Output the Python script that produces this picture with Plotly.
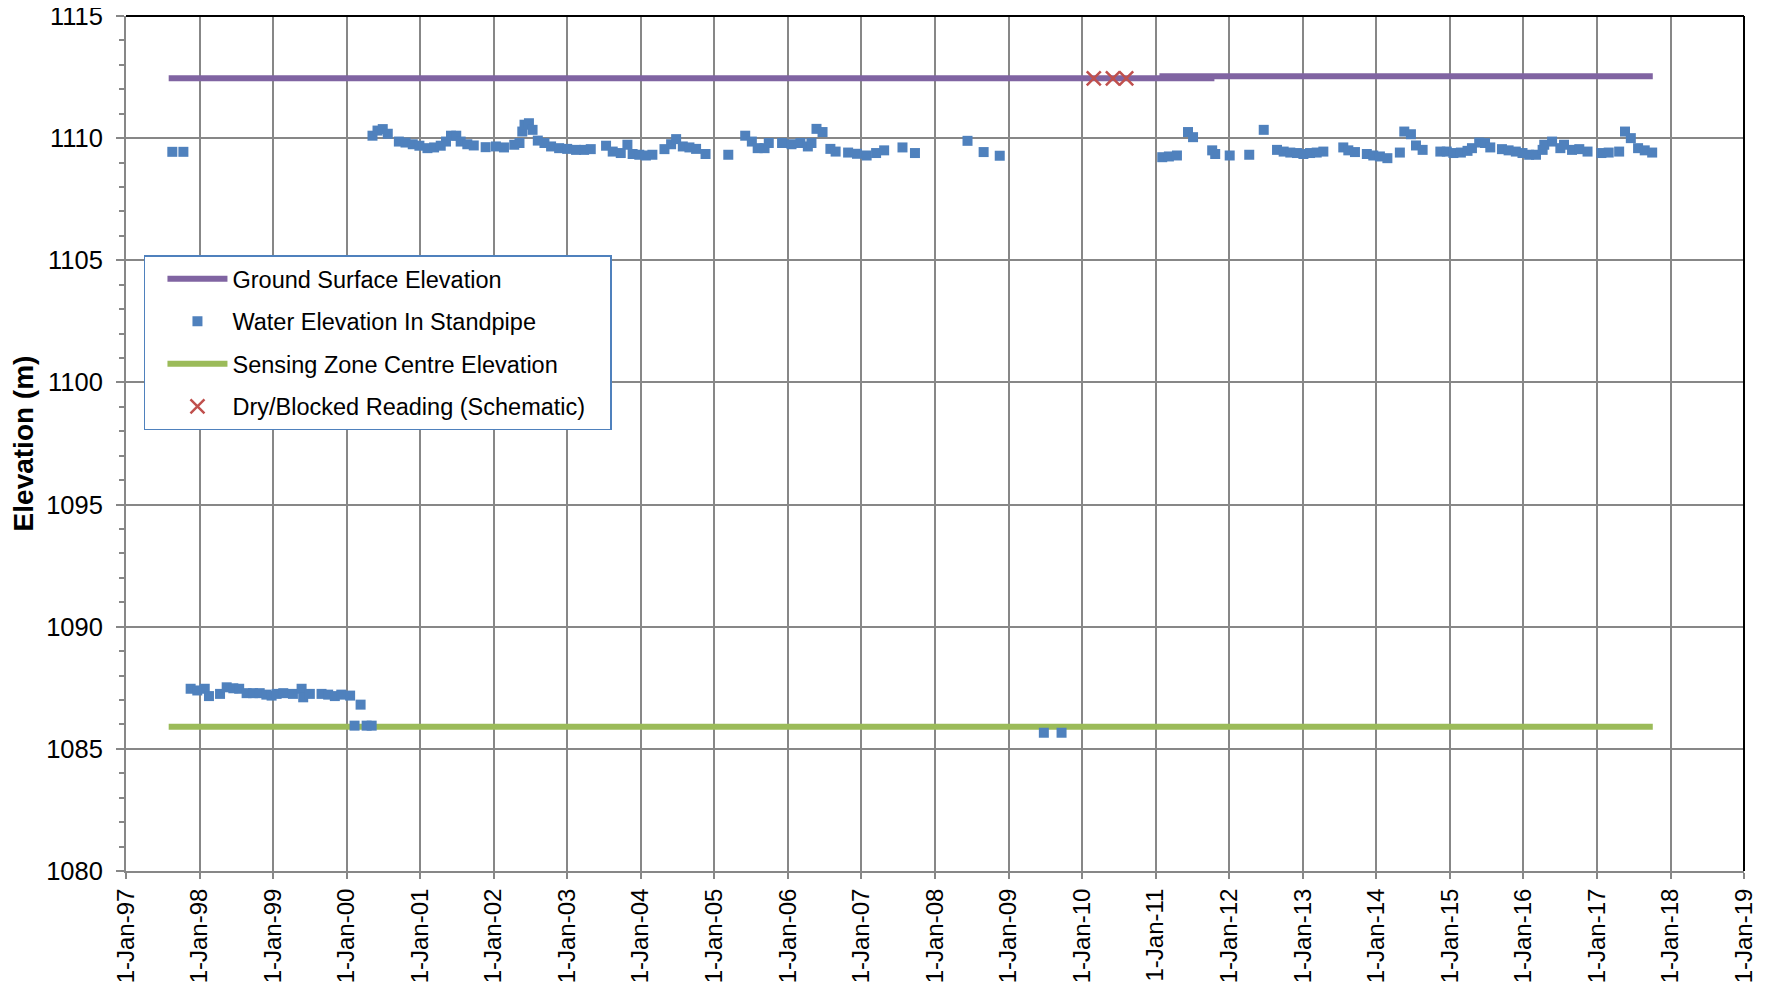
import plotly.graph_objects as go

# ---------------- data ----------------
ground_dates_a = ["1997-08-01", "2011-10-20"]
ground_vals_a = [1112.45, 1112.45]
ground_dates_b = ["2011-01-20", "2017-10-05"]
ground_vals_b = [1112.53, 1112.53]

sensing_dates = ["1997-08-01", "2017-10-05"]
sensing_vals = [1085.90, 1085.90]

dry_dates = ["2010-02-28", "2010-06-03", "2010-08-08"]
dry_vals = [1112.45, 1112.45, 1112.45]

water_dates = [
    "1997-08-19", "1997-10-13",
    "1997-11-18", "1997-12-21", "1998-01-27", "1998-02-17", "1998-04-13", "1998-05-16",
    "1998-06-18", "1998-07-17", "1998-08-23", "1998-09-24", "1998-10-27", "1998-11-29",
    "1998-12-25", "1999-01-19", "1999-02-21", "1999-04-10", "1999-05-23", "1999-05-31",
    "1999-07-03", "1999-08-30", "1999-10-02", "1999-11-04", "1999-12-06", "2000-01-19",
    "2000-03-11", "2000-02-10", "2000-04-10", "2000-05-05",
    "2000-05-09", "2000-06-03", "2000-06-29", "2000-07-24", "2000-09-17", "2000-10-20",
    "2000-11-25", "2000-12-28", "2001-02-06", "2001-03-11", "2001-04-13", "2001-05-09",
    "2001-06-03", "2001-06-29", "2001-07-21", "2001-08-23", "2001-09-24", "2001-11-22",
    "2002-01-12", "2002-02-21", "2002-04-13", "2002-05-09", "2002-05-23", "2002-06-03",
    "2002-06-25", "2002-07-13", "2002-08-08", "2002-09-10", "2002-10-13", "2002-11-22",
    "2003-01-01", "2003-02-14", "2003-03-26", "2003-04-28", "2003-07-13", "2003-08-15",
    "2003-09-24", "2003-10-27", "2003-11-22", "2003-12-25", "2004-01-27", "2004-02-28",
    "2004-04-28", "2004-05-31", "2004-06-25", "2004-07-28", "2004-08-30", "2004-10-02",
    "2004-11-18", "2005-03-11", "2005-06-03", "2005-07-06", "2005-08-04", "2005-09-07",
    "2005-09-28", "2005-12-03", "2006-01-19", "2006-03-04", "2006-04-10", "2006-04-28",
    "2006-05-23", "2006-06-22", "2006-07-31", "2006-08-26", "2006-10-27", "2006-12-10",
    "2007-01-27", "2007-03-15", "2007-04-24", "2007-07-24", "2007-09-24", "2008-06-11",
    "2008-08-30", "2008-11-18",
    "2009-06-25", "2009-09-21",
    "2011-02-03", "2011-03-08", "2011-04-17", "2011-06-11", "2011-07-06", "2011-10-09",
    "2011-10-24", "2012-01-04", "2012-04-10", "2012-06-21", "2012-08-26", "2012-09-28",
    "2012-10-31", "2012-12-03", "2013-01-04", "2013-02-06", "2013-03-11", "2013-04-13",
    "2013-07-21", "2013-08-15", "2013-09-17", "2013-11-15", "2013-12-17", "2014-01-19",
    "2014-02-25", "2014-04-28", "2014-05-20", "2014-06-22", "2014-07-17", "2014-08-19",
    "2014-11-15", "2014-12-17", "2015-01-19", "2015-02-25", "2015-03-30", "2015-04-21",
    "2015-05-27", "2015-06-25", "2015-07-21", "2015-09-17", "2015-10-20", "2015-11-25",
    "2015-12-28", "2016-01-30", "2016-03-04", "2016-04-06", "2016-04-14", "2016-05-23",
    "2016-07-03", "2016-07-21", "2016-08-30", "2016-10-05", "2016-11-15", "2017-01-23",
    "2017-02-28", "2017-04-21", "2017-05-20", "2017-06-18", "2017-07-24", "2017-08-26",
    "2017-10-02",
]
water_vals = [
    1109.44, 1109.44,
    1087.46, 1087.39, 1087.46, 1087.16, 1087.25, 1087.52,
    1087.48, 1087.46, 1087.28, 1087.28, 1087.28, 1087.22,
    1087.18, 1087.25, 1087.28, 1087.25, 1087.46, 1087.11,
    1087.25, 1087.25, 1087.22, 1087.16, 1087.22, 1087.18,
    1086.81, 1085.95, 1085.95, 1085.95,
    1110.10, 1110.31, 1110.37, 1110.18, 1109.86, 1109.82,
    1109.75, 1109.69, 1109.59, 1109.62, 1109.69, 1109.86,
    1110.10, 1110.10, 1109.86, 1109.75, 1109.70, 1109.63,
    1109.66, 1109.62, 1109.73, 1109.80, 1110.27, 1110.55,
    1110.61, 1110.34, 1109.90, 1109.80, 1109.66, 1109.59,
    1109.56, 1109.52, 1109.52, 1109.55, 1109.69, 1109.45,
    1109.39, 1109.73, 1109.35, 1109.32, 1109.29, 1109.32,
    1109.55, 1109.75, 1109.96, 1109.66, 1109.62, 1109.56,
    1109.35, 1109.32, 1110.10, 1109.86, 1109.59, 1109.59,
    1109.80, 1109.80, 1109.75, 1109.80, 1109.66, 1109.80,
    1110.38, 1110.25, 1109.56, 1109.45, 1109.41, 1109.36,
    1109.29, 1109.39, 1109.50, 1109.62, 1109.39, 1109.89,
    1109.43, 1109.28,
    1085.66, 1085.66,
    1109.22, 1109.25, 1109.29, 1110.25, 1110.04, 1109.50,
    1109.35, 1109.29, 1109.32, 1110.34, 1109.52, 1109.45,
    1109.41, 1109.39, 1109.35, 1109.39, 1109.41, 1109.45,
    1109.62, 1109.50, 1109.43, 1109.35, 1109.29, 1109.25,
    1109.18, 1109.41, 1110.27, 1110.16, 1109.70, 1109.52,
    1109.45, 1109.45, 1109.39, 1109.41, 1109.48, 1109.59,
    1109.82, 1109.80, 1109.62, 1109.55, 1109.50, 1109.45,
    1109.39, 1109.32, 1109.32, 1109.52, 1109.73, 1109.86,
    1109.59, 1109.73, 1109.52, 1109.55, 1109.45, 1109.39,
    1109.41, 1109.45, 1110.27, 1110.00, 1109.59, 1109.50,
    1109.41,
]

x_tick_dates = ["%d-01-01" % y for y in range(1997, 2020)]

# ---------------- styles ----------------
PURPLE = "#8064A2"
BLUE = "#4F81BD"
GREEN = "#9BBB59"
RED = "#C0504D"
GRID = "#878787"
FONT = "Arial, Liberation Sans, sans-serif"
PAD = "&nbsp;&nbsp;&nbsp;"

fig = go.Figure()

fig.add_trace(go.Scatter(
    x=ground_dates_a, y=ground_vals_a, mode="lines", name="Ground Surface Elevation",
    line=dict(color=PURPLE, width=6), legendgroup="g1", legendrank=1))
fig.add_trace(go.Scatter(
    x=ground_dates_b, y=ground_vals_b, mode="lines", name="Ground Surface Elevation",
    line=dict(color=PURPLE, width=6), legendgroup="g1", showlegend=False))
fig.add_trace(go.Scatter(
    x=sensing_dates, y=sensing_vals, mode="lines", name="Sensing Zone Centre Elevation",
    line=dict(color=GREEN, width=6), legendgroup="g3", legendrank=3))
fig.add_trace(go.Scatter(
    x=water_dates, y=water_vals, mode="markers", name="Water Elevation In Standpipe",
    marker=dict(symbol="square", size=10, color=BLUE), legendgroup="g2", legendrank=2))
fig.add_trace(go.Scatter(
    x=dry_dates, y=dry_vals, mode="markers", name="Dry/Blocked Reading (Schematic)" + PAD,
    marker=dict(symbol="x-thin", size=14, color=RED, line=dict(color=RED, width=2.5)),
    legendgroup="g4", legendrank=4))

fig.update_layout(
    width=1765, height=986,
    margin=dict(l=118, r=29, t=8, b=123, autoexpand=False),
    paper_bgcolor="white", plot_bgcolor="white",
    font=dict(family=FONT, color="black", size=23),
    showlegend=True,
    legend=dict(
        x=0.0111, y=0.72, xanchor="left", yanchor="top",
        bgcolor="white", bordercolor=BLUE, borderwidth=1.5,
        font=dict(size=23.5, family=FONT, color="black"),
        traceorder="grouped", tracegroupgap=9,
        itemwidth=60, indentation=17,
    ),
    xaxis=dict(
        type="date",
        range=["1997-01-01", "2019-01-01"],
        tickmode="array", tickvals=x_tick_dates,
        tickformat="%-d-%b-%y", tickangle=-90,
        showgrid=True, gridcolor=GRID, gridwidth=1.5,
        showline=True, linecolor=GRID, linewidth=2,
        ticks="outside", ticklen=6, tickcolor=GRID, tickwidth=1.5,
        tickfont=dict(size=24, family=FONT, color="black"),
        ticklabeloverflow="allow",
        zeroline=False, automargin=False,
    ),
    yaxis=dict(
        range=[1080, 1115],
        tickmode="linear", tick0=1080, dtick=5,
        showgrid=True, gridcolor=GRID, gridwidth=1.5,
        showline=True, linecolor=GRID, linewidth=2,
        ticks="outside", ticklen=8, tickcolor=GRID, tickwidth=1.5,
        minor=dict(dtick=1, ticks="outside", ticklen=5, tickcolor=GRID, showgrid=False),
        tickfont=dict(size=25.5, family=FONT, color="black"),
        ticklabelstandoff=8,
        ticklabeloverflow="allow",
        title=dict(text="<b>Elevation (m)</b>", font=dict(size=28, family=FONT, color="black"),
                   standoff=4),
        zeroline=False, automargin=False,
    ),
    shapes=[
        dict(type="line", xref="paper", yref="paper", x0=0, x1=1, y0=1, y1=1,
             line=dict(color="black", width=2), layer="above"),
        dict(type="line", xref="paper", yref="paper", x0=1, x1=1, y0=0, y1=1,
             line=dict(color="black", width=2), layer="above"),
    ],
)

fig.write_html(
    "out.html",
    post_script="document.querySelectorAll('.main-svg').forEach(function(s){s.style.overflow='visible';});",
)
